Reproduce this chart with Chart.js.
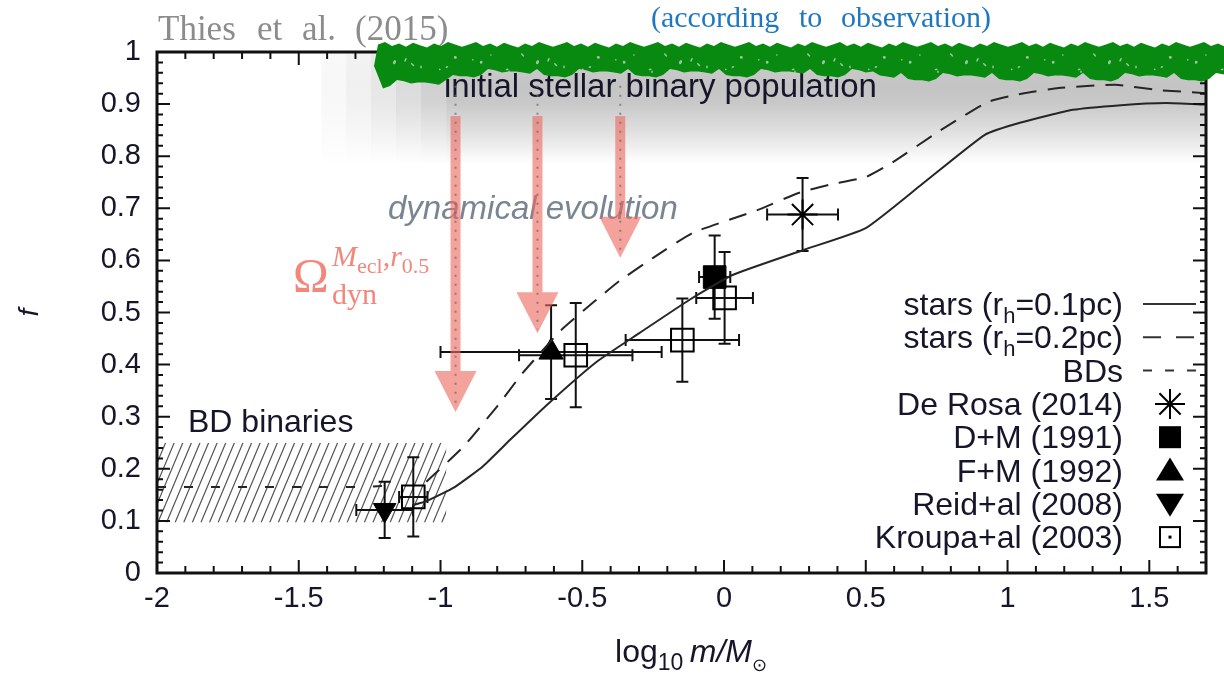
<!DOCTYPE html>
<html lang="en">
<head>
  <meta charset="UTF-8" />
  <title>Binary fraction vs primary mass</title>
  <script src="https://cdn.jsdelivr.net/npm/chart.js"></script>
  <style>
    body { margin: 0; background: #fff; }
    canvas { display: block; }
  </style>
</head>
<body>
<canvas id="binChart" width="1224" height="678"></canvas>
<script>
  // axis ticks
  const xTicks = [-2, -1.5, -1, -0.5, 0, 0.5, 1, 1.5];
  const yTicks = [0, 0.1, 0.2, 0.3, 0.4, 0.5, 0.6, 0.7, 0.8, 0.9, 1];

  // model curves
  const solidX = [-1.1, -1.05, -0.95, -0.85, -0.75, -0.62, -0.45, -0.3, -0.12, 0.03, 0.28, 0.5, 0.7, 0.92, 1.05, 1.23, 1.4, 1.56, 1.7];
  const solidY = [0.13, 0.138, 0.165, 0.205, 0.258, 0.325, 0.405, 0.46, 0.525, 0.572, 0.62, 0.662, 0.747, 0.841, 0.865, 0.889, 0.898, 0.902, 0.899];
  const dashX = [-1.05, -0.92, -0.8, -0.71, -0.575, -0.46, -0.37, -0.25, -0.11, 0.12, 0.26, 0.37, 0.5, 0.6, 0.75, 0.93, 1.05, 1.18, 1.38, 1.53, 1.7];
  const dashY = [0.175, 0.242, 0.32, 0.384, 0.466, 0.52, 0.56, 0.605, 0.653, 0.697, 0.729, 0.745, 0.76, 0.79, 0.845, 0.904, 0.92, 0.931, 0.937, 0.927, 0.921];
  const bdX = [-2, -1.6, -1.3, -1.15];
  const bdY = [0.165, 0.165, 0.165, 0.168];

  // observations
  const deRosaX = [0.277], deRosaY = [0.688], deRosaXErr = [0.125], deRosaYErr = [0.07];
  const dm91X = [-0.033], dm91Y = [0.568], dm91XErr = [0.055], dm91YErr = [0.08];
  const fm92X = [-0.61], fm92Y = [0.424], fm92XErr = [0.39], fm92YErr = [0.09];
  const reidX = [-1.197], reidY = [0.121], reidXErr = [0.1], reidYErr = [0.054];
  const kroupaX = [-1.096, -0.523, -0.147, 0.002];
  const kroupaY = [0.146, 0.418, 0.447, 0.528];
  const kroupaXErr = [0.05, 0.2, 0.2, 0.1];
  const kroupaYErr = [0.076, 0.1, 0.08, 0.088];

  // annotations
  const arrowX = [-0.947, -0.658, -0.366];
  const arrowTip = [0.309, 0.46, 0.605];
  const arrowTop = 0.877;
  const bdBox = { x0: -2, x1: -0.98, y0: 0.097, y1: 0.25 };
  const band = { xFade: -1.42, xFull: -0.98, yTop: 1.0, yBottom: 0.785 };
  const bandFade = [0.12, 0.25, 0.42, 0.6, 0.8];

  const SANS = '"Liberation Sans", Arial, Helvetica, sans-serif';
  const SERIF = '"Liberation Serif", "Times New Roman", serif';
  const INK = '#16162a';

  const pts = (xs, ys) => xs.map((x, i) => ({ x: x, y: ys[i] }));

  function drawRich(ctx, parts, x, y, align) {
    let w = 0;
    parts.forEach(p => { ctx.font = p.font; w += ctx.measureText(p.t).width; });
    let cx = align === 'right' ? x - w : (align === 'center' ? x - w / 2 : x);
    ctx.textAlign = 'left';
    ctx.textBaseline = 'alphabetic';
    parts.forEach(p => {
      ctx.font = p.font;
      ctx.fillText(p.t, cx, y + (p.dy || 0));
      cx += ctx.measureText(p.t).width;
    });
  }

  function marker(ctx, kind, x, y) {
    ctx.save();
    ctx.strokeStyle = '#000';
    ctx.fillStyle = '#000';
    ctx.lineWidth = 2;
    if (kind === 'star') {
      ctx.beginPath();
      for (let a = 0; a < 4; a++) {
        const t = a * Math.PI / 4;
        ctx.moveTo(x - 15 * Math.cos(t), y - 15 * Math.sin(t));
        ctx.lineTo(x + 15 * Math.cos(t), y + 15 * Math.sin(t));
      }
      ctx.stroke();
    } else if (kind === 'fsq') {
      ctx.fillRect(x - 11, y - 11, 22, 22);
    } else if (kind === 'tri') {
      ctx.beginPath(); ctx.moveTo(x, y - 13); ctx.lineTo(x + 14, y + 10); ctx.lineTo(x - 14, y + 10); ctx.closePath(); ctx.fill();
    } else if (kind === 'itri') {
      ctx.beginPath(); ctx.moveTo(x, y + 13); ctx.lineTo(x + 14, y - 10); ctx.lineTo(x - 14, y - 10); ctx.closePath(); ctx.fill();
    } else if (kind === 'osq') {
      ctx.strokeRect(x - 10, y - 10, 20, 20);
      ctx.fillRect(x - 1.5, y - 1.5, 3, 3);
    }
    ctx.restore();
  }

  const F = '32px ' + SANS, S = '22px ' + SANS;
  const legendRows = [
    { parts: [{ t: 'stars (r', font: F }, { t: 'h', font: S, dy: 8 }, { t: '=0.1pc)', font: F }], line: [] },
    { parts: [{ t: 'stars (r', font: F }, { t: 'h', font: S, dy: 8 }, { t: '=0.2pc)', font: F }], line: [18, 15] },
    { parts: [{ t: 'BDs', font: F }], line: [9, 13] },
    { parts: [{ t: 'De Rosa (2014)', font: F }], mark: 'star' },
    { parts: [{ t: 'D+M (1991)', font: F }], mark: 'fsq' },
    { parts: [{ t: 'F+M (1992)', font: F }], mark: 'tri' },
    { parts: [{ t: 'Reid+al (2008)', font: F }], mark: 'itri' },
    { parts: [{ t: 'Kroupa+al (2003)', font: F }], mark: 'osq' }
  ];

  function drawFrameTicks(chart) {
    const { ctx, chartArea: a, scales: { x, y } } = chart;
    ctx.save();
    ctx.setLineDash([]);
    ctx.strokeStyle = '#111';
    ctx.lineWidth = 2;
    ctx.beginPath();
    for (let k = 0; k <= 37; k++) {
      const px = x.getPixelForValue(-2 + k * 0.1);
      const len = k % 5 === 0 ? 13 : 7;
      ctx.moveTo(px, a.bottom); ctx.lineTo(px, a.bottom - len);
      ctx.moveTo(px, a.top); ctx.lineTo(px, a.top + len);
    }
    for (let k = 0; k <= 50; k++) {
      const py = y.getPixelForValue(k * 0.02);
      const len = k % 5 === 0 ? 13 : 6;
      ctx.moveTo(a.left, py); ctx.lineTo(a.left + len, py);
      ctx.moveTo(a.right, py); ctx.lineTo(a.right - len, py);
    }
    ctx.stroke();
    ctx.lineWidth = 3;
    ctx.strokeRect(a.left, a.top, a.right - a.left, a.bottom - a.top);
    ctx.restore();
  }

  const decor = {
    id: 'decor',
    beforeDatasetsDraw(chart) {
      const { ctx, chartArea: a, scales: { x, y } } = chart;
      ctx.save();
      ctx.beginPath(); ctx.rect(a.left, a.top, a.right - a.left, a.bottom - a.top); ctx.clip();

      // grey band of the initial population, fading in blocks on the left
      const bx = x.getPixelForValue(band.xFade), fx = x.getPixelForValue(band.xFull);
      const bt = y.getPixelForValue(band.yTop), bb = y.getPixelForValue(band.yBottom);
      const g = ctx.createLinearGradient(0, bt, 0, bb);
      g.addColorStop(0, '#cdcdcd');
      g.addColorStop(0.3, '#c4c4c4');
      g.addColorStop(0.45, '#c8c8c8');
      g.addColorStop(0.7, '#dfdfdf');
      g.addColorStop(1, '#ffffff');
      ctx.fillStyle = g;
      const step = (fx - bx) / bandFade.length;
      bandFade.forEach((al, k) => {
        ctx.globalAlpha = al;
        ctx.fillRect(bx + k * step, bt, step + 0.5, bb - bt);
      });
      ctx.globalAlpha = 1;
      ctx.fillRect(fx, bt, a.right - fx, bb - bt);

      // hatched BD binaries box
      const hx0 = x.getPixelForValue(bdBox.x0), hx1 = x.getPixelForValue(bdBox.x1);
      const hy0 = y.getPixelForValue(bdBox.y0), hy1 = y.getPixelForValue(bdBox.y1);
      ctx.save();
      ctx.beginPath(); ctx.rect(hx0, hy1, hx1 - hx0, hy0 - hy1); ctx.clip();
      ctx.strokeStyle = '#555';
      ctx.lineWidth = 1.2;
      ctx.beginPath();
      const rise = hy0 - hy1, lean = rise * 0.42;
      for (let sx = hx0 - lean; sx < hx1 + 10; sx += 8.6) {
        ctx.moveTo(sx, hy0); ctx.lineTo(sx + lean, hy1);
      }
      ctx.stroke();
      ctx.restore();

      // error bars
      ctx.strokeStyle = '#111';
      ctx.lineWidth = 2;
      chart.data.datasets.forEach(ds => {
        if (!ds.errX) return;
        ds.data.forEach((p, i) => {
          const px = x.getPixelForValue(p.x), py = y.getPixelForValue(p.y);
          const xl = x.getPixelForValue(p.x - ds.errX[i]), xr = x.getPixelForValue(p.x + ds.errX[i]);
          const yt = y.getPixelForValue(p.y + ds.errY[i]), yb = y.getPixelForValue(p.y - ds.errY[i]);
          ctx.beginPath();
          ctx.moveTo(xl, py); ctx.lineTo(xr, py);
          ctx.moveTo(xl, py - 6); ctx.lineTo(xl, py + 6);
          ctx.moveTo(xr, py - 6); ctx.lineTo(xr, py + 6);
          ctx.moveTo(px, yt); ctx.lineTo(px, yb);
          ctx.moveTo(px - 6, yt); ctx.lineTo(px + 6, yt);
          ctx.moveTo(px - 6, yb); ctx.lineTo(px + 6, yb);
          ctx.stroke();
        });
      });
      ctx.restore();
    },
    afterDatasetsDraw(chart) {
      const { ctx, scales: { x, y } } = chart;
      ctx.save();

      // texts inside the plot
      ctx.fillStyle = INK;
      ctx.font = '33px ' + SANS;
      ctx.fillText('initial stellar binary population', 444, 97);
      ctx.font = '32px ' + SANS;
      ctx.fillText('BD binaries', 188, 432);
      ctx.fillStyle = '#7a8594';
      ctx.font = 'italic 33px ' + SANS;
      ctx.fillText('dynamical evolution', 388, 219);

      // arrows of dynamical evolution
      arrowX.forEach((ax, i) => {
        const px = x.getPixelForValue(ax);
        const top = y.getPixelForValue(arrowTop), tip = y.getPixelForValue(arrowTip[i]);
        ctx.fillStyle = 'rgba(238,105,95,0.62)';
        ctx.fillRect(px - 5, top, 10, tip - 41 - top);
        ctx.beginPath();
        ctx.moveTo(px - 21, tip - 41); ctx.lineTo(px + 21, tip - 41); ctx.lineTo(px, tip);
        ctx.closePath(); ctx.fill();
        ctx.strokeStyle = 'rgba(110,110,110,0.75)';
        ctx.lineWidth = 2;
        ctx.setLineDash([2, 7]);
        ctx.beginPath(); ctx.moveTo(px, y.getPixelForValue(0.935)); ctx.lineTo(px, tip - 4); ctx.stroke();
        ctx.setLineDash([]);
      });

      // Omega label
      ctx.fillStyle = '#f2877c';
      ctx.font = '48px ' + SERIF;
      ctx.fillText('\u03A9', 293, 292);
      drawRich(ctx, [
        { t: 'M', font: 'italic 30px ' + SERIF },
        { t: 'ecl', font: '22px ' + SERIF, dy: 7 },
        { t: ',', font: '30px ' + SERIF },
        { t: 'r', font: 'italic 30px ' + SERIF },
        { t: '0.5', font: '22px ' + SERIF, dy: 7 }
      ], 332, 266, 'left');
      ctx.font = '30px ' + SERIF;
      ctx.fillText('dyn', 332, 304);

      // legend
      ctx.fillStyle = INK;
      legendRows.forEach((r, i) => {
        const ry = 304 + i * 33.3;
        drawRich(ctx, r.parts, 1123, ry + 11, 'right');
        if (r.mark) {
          marker(ctx, r.mark, 1170, ry);
        } else {
          ctx.strokeStyle = '#333';
          ctx.lineWidth = 2;
          ctx.setLineDash(r.line);
          ctx.beginPath(); ctx.moveTo(1143, ry); ctx.lineTo(1196, ry); ctx.stroke();
          ctx.setLineDash([]);
        }
      });
      ctx.restore();
    },
    afterDraw(chart) {
      const { ctx } = chart;
      drawFrameTicks(chart);
      ctx.save();
      ctx.textBaseline = 'alphabetic';
      ctx.textAlign = 'left';

      // header notes
      ctx.fillStyle = '#8c8c8c';
      ctx.font = '35px ' + SERIF;
      ctx.fillText('Thies', 158, 40);
      ctx.fillText('et', 257, 40);
      ctx.fillText('al.', 302, 40);
      ctx.fillText('(2015)', 355, 40);
      ctx.fillStyle = '#1e78c0';
      ctx.font = '30px ' + SERIF;
      ctx.fillText('(according', 651, 27);
      ctx.fillText('to', 799, 27);
      ctx.fillText('observation)', 841, 27);

      // green scribble
      const jag = [3, 0, 5, 2, 6, 1, 4, 7, 2, 5, 0, 3, 6];
      ctx.fillStyle = '#078a0f';
      ctx.beginPath();
      ctx.moveTo(374, 66);
      let i = 0;
      for (let px = 378; px <= 1230; px += 7, i++) ctx.lineTo(px, 42 + jag[i % 13] * 0.8);
      i = 0;
      for (let px = 1230; px >= 378; px -= 7, i++) {
        const base = px < 450 ? 80 : (px < 880 ? 69 : 73);
        ctx.lineTo(px, base + jag[(i * 5) % 13] * 1.2);
      }
      ctx.closePath();
      ctx.fill();
      // light specks scattered in the lower part of the stroke
      ctx.fillStyle = 'rgba(200,208,200,0.8)';
      for (let px = 388, k = 0; px < 1220; px += 11, k++) {
        const s = jag[(k * 3) % 13], t = jag[(k * 7 + 2) % 13];
        ctx.beginPath();
        ctx.ellipse(px + t * 1.3, 55 + s * 2.4, 0.8 + (t % 3) * 0.7, 0.8 + (s % 2) * 0.6, t * 0.4, 0, Math.PI * 2);
        ctx.fill();
      }

      // x axis title
      ctx.fillStyle = INK;
      drawRich(ctx, [
        { t: 'log', font: '32px ' + SANS },
        { t: '10 ', font: '23px ' + SANS, dy: 8 },
        { t: 'm/M', font: 'italic 32px ' + SANS },
        { t: '\u2299', font: '18px ' + SANS, dy: 9 }
      ], 691, 662, 'center');
      ctx.restore();
    }
  };

  new Chart(document.getElementById('binChart'), {
    type: 'scatter',
    data: {
      datasets: [
        { label: 'stars (rh=0.1pc)', data: pts(solidX, solidY), showLine: true, pointRadius: 0, borderColor: '#262626', borderWidth: 2, tension: 0.15 },
        { label: 'stars (rh=0.2pc)', data: pts(dashX, dashY), showLine: true, pointRadius: 0, borderColor: '#262626', borderWidth: 2, borderDash: [18, 11], tension: 0.15 },
        { label: 'BDs', data: pts(bdX, bdY), showLine: true, pointRadius: 0, borderColor: '#262626', borderWidth: 2, borderDash: [9, 18] },
        { label: 'De Rosa (2014)', data: pts(deRosaX, deRosaY), errX: deRosaXErr, errY: deRosaYErr, pointStyle: 'star', pointRadius: 15, borderColor: '#000', borderWidth: 2 },
        { label: 'D+M (1991)', data: pts(dm91X, dm91Y), errX: dm91XErr, errY: dm91YErr, pointStyle: 'rect', pointRadius: 16, backgroundColor: '#000', borderColor: '#000', borderWidth: 1 },
        { label: 'F+M (1992)', data: pts(fm92X, fm92Y), errX: fm92XErr, errY: fm92YErr, pointStyle: 'triangle', pointRadius: 14, backgroundColor: '#000', borderColor: '#000', borderWidth: 1 },
        { label: 'Reid+al (2008)', data: pts(reidX, reidY), errX: reidXErr, errY: reidYErr, pointStyle: 'triangle', rotation: 180, pointRadius: 13, backgroundColor: '#000', borderColor: '#000', borderWidth: 1 },
        { label: 'Kroupa+al (2003)', data: pts(kroupaX, kroupaY), errX: kroupaXErr, errY: kroupaYErr, pointStyle: 'rect', pointRadius: 16, backgroundColor: 'rgba(0,0,0,0)', borderColor: '#000', borderWidth: 2 }
      ]
    },
    options: {
      responsive: false,
      animation: false,
      layout: { padding: { top: 52, right: 3, left: 0, bottom: 0 } },
      plugins: { legend: { display: false }, tooltip: { enabled: false } },
      scales: {
        x: {
          type: 'linear', min: -2, max: 1.7,
          afterBuildTicks: s => { s.ticks = xTicks.map(v => ({ value: v })); },
          afterFit: s => { s.height = 105; },
          grid: { display: false, drawTicks: false },
          border: { display: false },
          ticks: { color: INK, font: { family: SANS, size: 29 }, padding: 9, maxRotation: 0, autoSkip: false, callback: v => String(v) }
        },
        y: {
          min: 0, max: 1,
          afterBuildTicks: s => { s.ticks = yTicks.map(v => ({ value: v })); },
          afterFit: s => { s.width = 157; },
          grid: { display: false, drawTicks: false },
          border: { display: false },
          ticks: { color: INK, font: { family: SANS, size: 29 }, padding: 16, autoSkip: false, callback: v => String(v) },
          title: { display: true, text: 'f', color: INK, font: { family: SANS, size: 28, style: 'italic' }, padding: { top: 13, bottom: 0 } }
        }
      }
    },
    plugins: [decor]
  });
</script>
</body>
</html>
